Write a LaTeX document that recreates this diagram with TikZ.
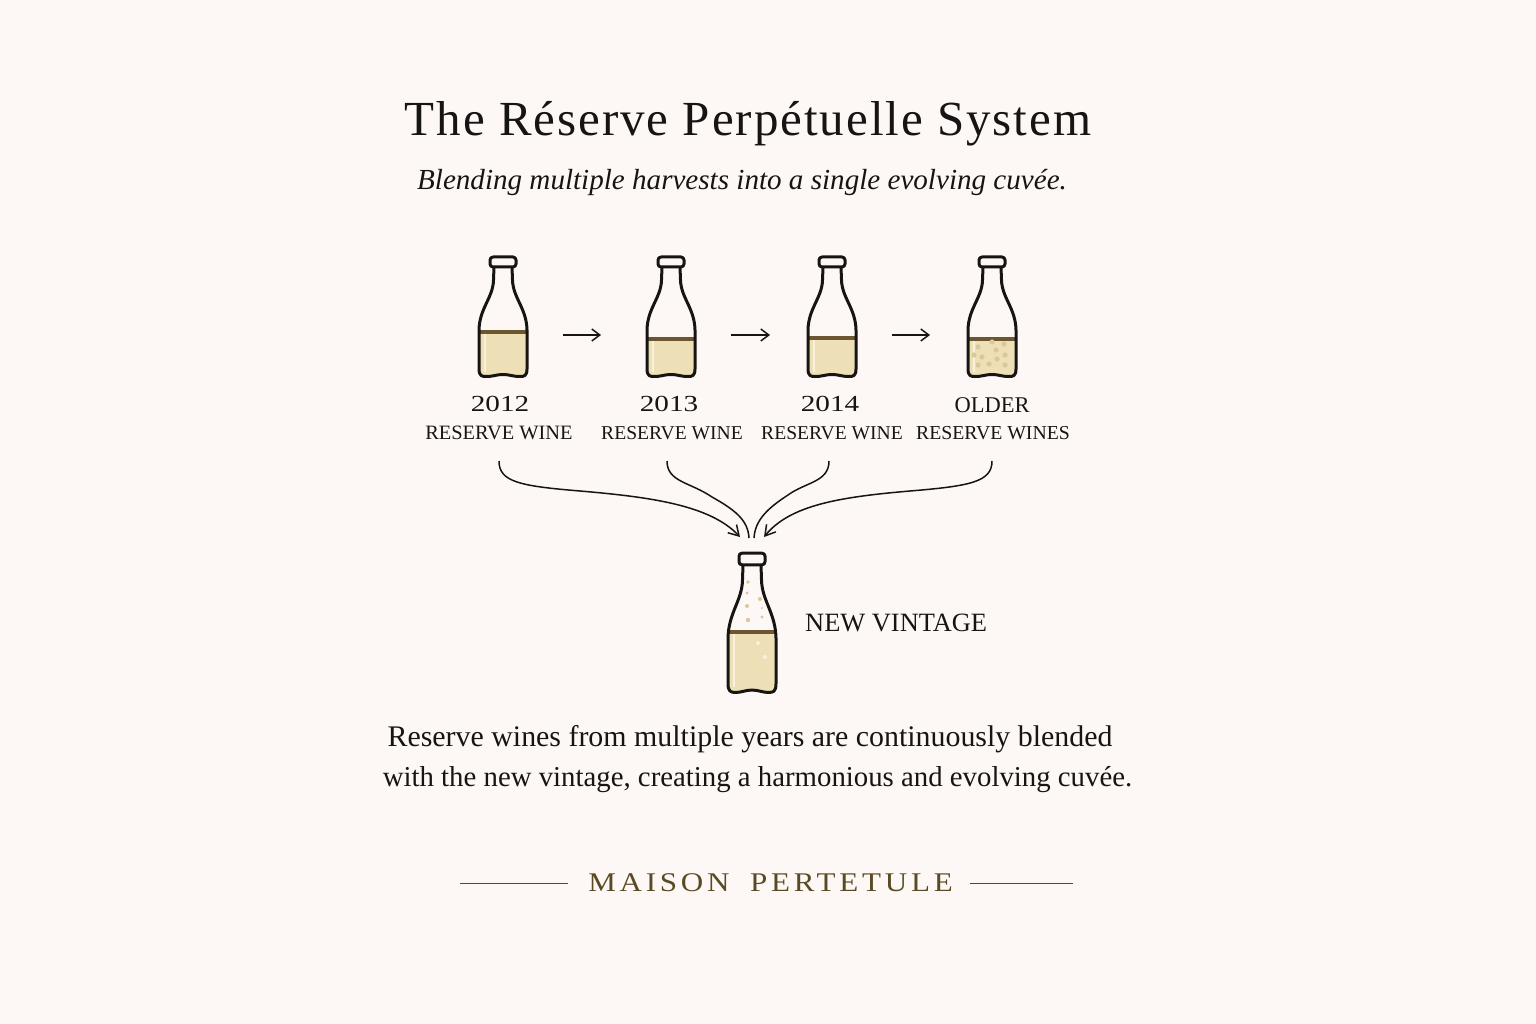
\documentclass[tikz,border=0pt]{standalone}
\usepackage{fontspec}
\usepackage{xcolor}
\usetikzlibrary{arrows.meta,positioning,calc}
\setmainfont{Liberation Serif}
\newfontfamily\yearfont[FakeStretch=1.27]{Liberation Serif}
\newfontfamily\titlefont[LetterSpace=4]{Liberation Serif}
\newfontfamily\footfont[LetterSpace=14,FakeStretch=1.15]{Liberation Serif}
\definecolor{paperbg}{HTML}{FDF8F5}
\definecolor{inkblack}{HTML}{171513}
\definecolor{winefill}{HTML}{EEE0B6}
\definecolor{winetop}{HTML}{6B5630}
\definecolor{winehi}{HTML}{F8F1DC}
\definecolor{speck}{HTML}{DAC79C}
\definecolor{footbrown}{HTML}{5A4A24}
\newcommand{\bottlepath}{(-9,11) -- (-9.5,24) .. controls (-10,42) and (-23.5,52) .. (-24,74) -- (-24,113) .. controls (-24,120) and (-21,120.5) .. (-17,120.5) .. controls (-9,120.5) and (-7,118.5) .. (0,118.5) .. controls (7,118.5) and (9,120.5) .. (17,120.5) .. controls (21,120.5) and (24,120) .. (24,113) -- (24,74) .. controls (23.5,52) and (10,42) .. (9.5,24) -- (9,11)}
\tikzset{
  pics/bottle/.style={code={
    \begin{scope}
      \clip \bottlepath -- cycle;
      \fill[winefill] (-26,#1) rectangle (26,122);
      \fill[winehi] (-19.5,#1) rectangle (-17.5,116);
      \fill[winetop] (-26,#1-1.7) rectangle (26,#1+1.7);
    \end{scope}
    \draw[bottleline] \bottlepath;
    \draw[bottleline,fill=paperbg,rounded corners=3pt] (-13,1) rectangle (13,11);
    \coordinate (-r) at (26,79);
    \coordinate (-l) at (-26,79);
  }},
  bottleline/.style={draw=inkblack,line width=3pt,line join=round},
  nextarrow/.style={-{Straight Barb[length=8pt,width=12pt]},draw=inkblack,line width=1.5pt,shorten <=34pt,shorten >=36pt},
  blendline/.style={draw=inkblack,line width=1.5pt},
  blendarrow/.style={blendline,-{Straight Barb[length=10pt,width=12pt]}},
  yearlab/.style={text=inkblack,font=\yearfont\fontsize{23}{28}\selectfont},
  winelab/.style={text=inkblack,font=\fontsize{19.6}{22}\selectfont},
  bodytext/.style={text=inkblack},
}
\begin{document}
\begin{tikzpicture}[x=1pt,y=-1pt]
\fill[paperbg] (0,0) rectangle (1536,1024);
\useasboundingbox (0,0) rectangle (1536,1024);
\node[text=inkblack,font=\titlefont\fontsize{49}{52}\selectfont] (title) at (748,124) {The Réserve Perpétuelle System};
\node[text=inkblack,font=\itshape\fontsize{29.1}{34}\selectfont] (subtitle) at (742,182) {Blending multiple harvests into a single evolving cuvée.};
% reserve bottles
\pic (b12) at (503,256) {bottle=76};
\pic (b13) at (671,256) {bottle=83};
\pic (b14) at (832,256) {bottle=82};
\pic (bold) at (992,256) {bottle=83};
\foreach \x/\y in {-14/91,12/88,4/94,-18/99,-10/101,13/99,5/103,-14/109,-3/108,13/109,0/86} {
  \fill[speck] (992+\x,256+\y) circle (2.6);
}
\draw[nextarrow,shorten >=44pt] (b12-r) -- (b13-l);
\draw[nextarrow] (b13-r) -- (b14-l);
\draw[nextarrow] (b14-r) -- (bold-l);
% labels under bottles
\node[yearlab] (y12) at (500,404) {2012};
\node[yearlab] (y13) at (669,404) {2013};
\node[yearlab] (y14) at (830,404) {2014};
\node[winelab,font=\fontsize{22.5}{24}\selectfont] (yold) at (992,405) {OLDER};
\node[winelab,font=\fontsize{20.4}{22}\selectfont] (w12) at (499,433) {RESERVE WINE};
\node[winelab] (w13) at (672,433) {RESERVE WINE};
\node[winelab] (w14) at (832,433) {RESERVE WINE};
\node[winelab,font=\fontsize{19.75}{22}\selectfont] (wold) at (993,433) {RESERVE WINES};
% new bottle
\pic (nv) [yscale=1.165] at (752,552) {bottle=69};
\foreach \x/\y/\r in {748/582/1.8,747/593/1.6,760/599/2,747/606/2,762/608/1.2,748/620/2.2,762/617/1.6} {
  \fill[speck] (\x,\y) circle (\r);
}
\foreach \x/\y in {758/643,765/657} {
  \fill[winehi] (\x,\y) circle (2);
}
\node[winelab,font=\fontsize{26.4}{28}\selectfont,anchor=west,inner sep=0pt] (nvlab) at (805,623) {NEW VINTAGE};
% blending curves
\coordinate (o12) at (499,461);
\coordinate (o13) at (667,461);
\coordinate (o14) at (829,461);
\coordinate (oold) at (992,461);
\coordinate (i12) at (740,537);
\coordinate (i13) at (749,538);
\coordinate (i14) at (754,538);
\coordinate (iold) at (764,537);
\draw[blendarrow] (o12) .. controls (499,482) and (520,486) .. (580,491) .. controls (650,497) and (710,505) .. (i12);
\draw[blendline] (o13) .. controls (667,482) and (690,482) .. (712,497) .. controls (735,510) and (748,520) .. (i13);
\draw[blendline] (o14) .. controls (829,482) and (806,482) .. (788,495) .. controls (768,508) and (755,520) .. (i14);
\draw[blendarrow] (oold) .. controls (992,482) and (970,486) .. (910,491) .. controls (840,497) and (790,505) .. (iold);
% caption
\node[bodytext,font=\fontsize{29.9}{34}\selectfont] (body1) at (750,739) {Reserve wines from multiple years are continuously blended};
\node[bodytext,font=\fontsize{28.8}{34}\selectfont] (body2) at (757.5,780) {with the new vintage, creating a harmonious and evolving cuvée.};
% footer
\node[text=footbrown,font=\footfont\fontsize{27}{32}\selectfont] (maison) at (770.5,883) {MAISON\hspace{9pt} PERTETULE};
\coordinate (ruleL) at (460,883);
\coordinate (ruleR) at (1073,883);
\draw[footbrown,line width=0.9pt] (ruleL) -- (568,883);
\draw[footbrown,line width=0.9pt] (970,883) -- (ruleR);
\end{tikzpicture}
\end{document}
